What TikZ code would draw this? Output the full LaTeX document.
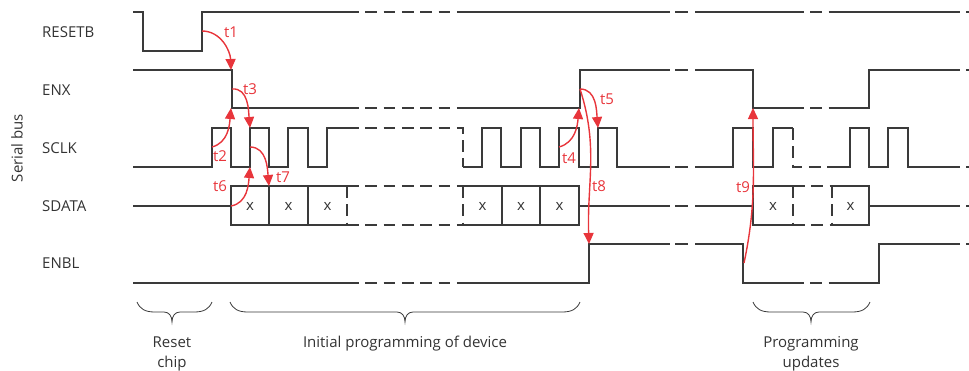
\documentclass[tikz,border=0pt]{standalone}
\usepackage{fontspec}
\setmainfont{Open Sans}
\usetikzlibrary{arrows.meta}
\definecolor{sigc}{HTML}{3A3A3A}
\definecolor{txtc}{HTML}{333333}
\definecolor{redc}{HTML}{E8353B}
\newcommand\lbfont{\fontsize{15}{20}\selectfont}
\newcommand\tbrace[3]{%
  \draw[brc] (#1,302) .. controls (#1+3,309) and (#1+8,312) .. (#1+18,312)
    -- (#2-8,312) .. controls (#2-3,312) and (#2,316) .. (#2,322)
    .. controls (#2,316) and (#2+3,312) .. (#2+8,312)
    -- (#3-18,312) .. controls (#3-8,312) and (#3-3,309) .. (#3,302);}
\tikzset{
  sig/.style={draw=sigc, line width=1.6pt, line join=miter},
  dsh/.style={draw=sigc, line width=2.6pt, dash pattern=on 11.7pt off 6.6pt},
  dshB/.style={draw=sigc, line width=2.6pt, dash pattern=on 13pt off 5pt},
  arr/.style={draw=redc, line width=1.4pt, -{Triangle[length=11pt,width=10pt]}},
  lbl/.style={text=txtc, font=\lbfont, inner sep=0pt},
  tl/.style={text=redc, font=\lbfont, inner sep=0pt},
  brc/.style={draw=sigc, line width=0.8pt},
}
\begin{document}
\begin{tikzpicture}[x=1pt,y=-1pt]
\useasboundingbox (0,0) rectangle (969,370);

% ---------- RESETB ----------
\draw[sig] (133,12) -- (143,12) -- (143,51) -- (202,51) -- (202,12) -- (347,12);
\draw[dsh] (347,12) -- (463,12);
\draw[sig] (463,12) -- (657,12);
\draw[dshB] (657,12) -- (690,12);
\draw[sig] (695,12) -- (792,12);
\draw[dsh] (792,12) -- (832,12);
\draw[sig] (832,12) -- (948,12);
\draw[dsh] (948,12) -- (969,12);

% ---------- ENX ----------
\draw[sig] (133,70) -- (232,70) -- (232,108) -- (347,108);
\draw[dsh] (347,108) -- (463,108);
\draw[sig] (463,108) -- (580,108) -- (580,70) -- (657,70);
\draw[dshB] (657,70) -- (690,70);
\draw[sig] (695,70) -- (753,70) -- (753,108) -- (792,108);
\draw[dsh] (792,108) -- (832,108);
\draw[sig] (832,108) -- (869,108) -- (869,70) -- (948,70);
\draw[dsh] (948,70) -- (969,70);

% ---------- SCLK ----------
\draw[sig] (133,167) -- (212,167) -- (212,128) -- (231,128) -- (231,167) -- (250,167)
  -- (250,128) -- (269,128) -- (269,167) -- (288,167) -- (288,128) -- (308,128)
  -- (308,167) -- (327,167) -- (327,128) -- (347,128);
\draw[dsh] (347,128) -- (463,128) -- (463,167);
\draw[sig] (463,167) -- (482,167) -- (482,128) -- (501,128) -- (501,167) -- (521,167)
  -- (521,128) -- (540,128) -- (540,167) -- (559,167) -- (559,128) -- (579,128)
  -- (579,167) -- (598,167) -- (598,128) -- (617,128) -- (617,167) -- (657,167);
\draw[dshB] (657,167) -- (690,167);
\draw[sig] (695,167) -- (733,167) -- (733,128) -- (753,128) -- (753,167) -- (773,167)
  -- (773,128) -- (793,128);
\draw[dsh] (793,128) -- (793,167) -- (832,167);
\draw[sig] (832,167) -- (850,167) -- (850,128) -- (869,128) -- (869,167) -- (888,167)
  -- (888,128) -- (908,128) -- (908,167) -- (948,167);
\draw[dsh] (948,167) -- (969,167);

% ---------- SDATA ----------
\draw[sig] (133,206) -- (231,206);
\draw[sig] (347,186) -- (231,186) -- (231,225) -- (347,225);
\draw[sig] (269,186) -- (269,225) (308,186) -- (308,225);
\draw[dsh] (347,186) -- (347,225);
\draw[dsh] (347,186) -- (463,186);
\draw[dsh] (347,225) -- (463,225);
\draw[dsh] (463,186) -- (463,225);
\draw[sig] (463,186) -- (579,186) -- (579,225) -- (463,225);
\draw[sig] (502,186) -- (502,225) (540,186) -- (540,225);
\draw[sig] (579,206) -- (657,206);
\draw[dshB] (657,206) -- (690,206);
\draw[sig] (695,206) -- (753,206);
\draw[sig] (793,186) -- (753,186) -- (753,225) -- (793,225);
\draw[dsh] (793,186) -- (793,225);
\draw[dsh] (793,186) -- (832,186);
\draw[dsh] (793,225) -- (832,225);
\draw[dsh] (832,186) -- (832,225);
\draw[sig] (832,186) -- (869,186) -- (869,225) -- (832,225);
\draw[sig] (869,206) -- (948,206);
\draw[dsh] (948,206) -- (969,206);

% ---------- ENBL ----------
\draw[sig] (133,283) -- (347,283);
\draw[dsh] (347,283) -- (463,283);
\draw[sig] (463,283) -- (589,283) -- (589,244) -- (657,244);
\draw[dshB] (657,244) -- (690,244);
\draw[sig] (695,244) -- (743,244) -- (743,283) -- (792,283);
\draw[dsh] (792,283) -- (832,283);
\draw[sig] (832,283) -- (879,283) -- (879,244) -- (948,244);
\draw[dsh] (948,244) -- (969,244);

% ---------- labels ----------
\node[lbl, anchor=west] (lRESETB) at (42,32) {RESETB};
\node[lbl, anchor=west] (lENX) at (42,90) {ENX};
\node[lbl, anchor=west] (lSCLK) at (42,148) {SCLK};
\node[lbl, anchor=west] (lSDATA) at (42,206) {SDATA};
\node[lbl, anchor=west] (lENBL) at (42,263) {ENBL};
\node[lbl, rotate=90] (lbus) at (17,148) {Serial bus};

\node[lbl] (x1) at (250,206) {x};
\node[lbl] (x2) at (288.5,206) {x};
\node[lbl] (x3) at (327.5,206) {x};
\node[lbl] (x4) at (482.5,206) {x};
\node[lbl] (x5) at (521,206) {x};
\node[lbl] (x6) at (559.5,206) {x};
\node[lbl] (x7) at (773,206) {x};
\node[lbl] (x8) at (850.5,206) {x};

% ---------- timing arrows ----------
\coordinate (a1s) at (202,31);  \coordinate (a1e) at (231,70);
\coordinate (a3s) at (232,89);  \coordinate (a3e) at (250,128);
\coordinate (a2s) at (212,147); \coordinate (a2e) at (231,108);
\coordinate (a6s) at (231,206); \coordinate (a6e) at (250,167);
\coordinate (a7s) at (250,147); \coordinate (a7e) at (269,186);
\coordinate (a4s) at (559,147); \coordinate (a4e) at (579,108);
\coordinate (a5s) at (580,89);  \coordinate (a5e) at (598,128);
\coordinate (a8e) at (589,244);
\coordinate (a9s) at (744,263); \coordinate (a9e) at (753,108);

\draw[arr] (a1s) to[out=0,in=92] (a1e);
\draw[arr] (a3s) to[out=5,in=95] (a3e);
\draw[arr] (a2s) to[out=15,in=-95] (a2e);
\draw[arr] (a6s) to[out=10,in=-95] (a6e);
\draw[arr] (a7s) to[out=0,in=95] (a7e);
\draw[arr] (a4s) to[out=15,in=-95] (a4e);
\draw[arr] (a5s) to[out=0,in=95] (a5e);
\draw[arr] (a5s) to[out=-72,in=92] (a8e);
\draw[arr] (a9s) to[out=78,in=-90] (a9e);

\node[tl] (t1) at (231,32) {t1};
\node[tl] (t3) at (250,89) {t3};
\node[tl] (t2) at (220,156) {t2};
\node[tl] (t6) at (220,186) {t6};
\node[tl] (t7) at (283,177) {t7};
\node[tl] (t4) at (569,158) {t4};
\node[tl] (t8) at (599,186) {t8};
\node[tl] (t5) at (607,99) {t5};
\node[tl] (t9) at (743,187) {t9};

% ---------- braces ----------
\tbrace{137}{172}{212}
\tbrace{230}{405}{580}
\tbrace{753}{811}{870}
\node[lbl, anchor=base] (bReset) at (172,347) {Reset};
\node[lbl, anchor=base] (bchip) at (172,367) {chip};
\node[lbl, anchor=base] (bInit) at (405,347) {Initial programming of device};
\node[lbl, anchor=base] (bProg) at (811,347) {Programming};
\node[lbl, anchor=base] (bupd) at (811,367) {updates};
\end{tikzpicture}
\end{document}
